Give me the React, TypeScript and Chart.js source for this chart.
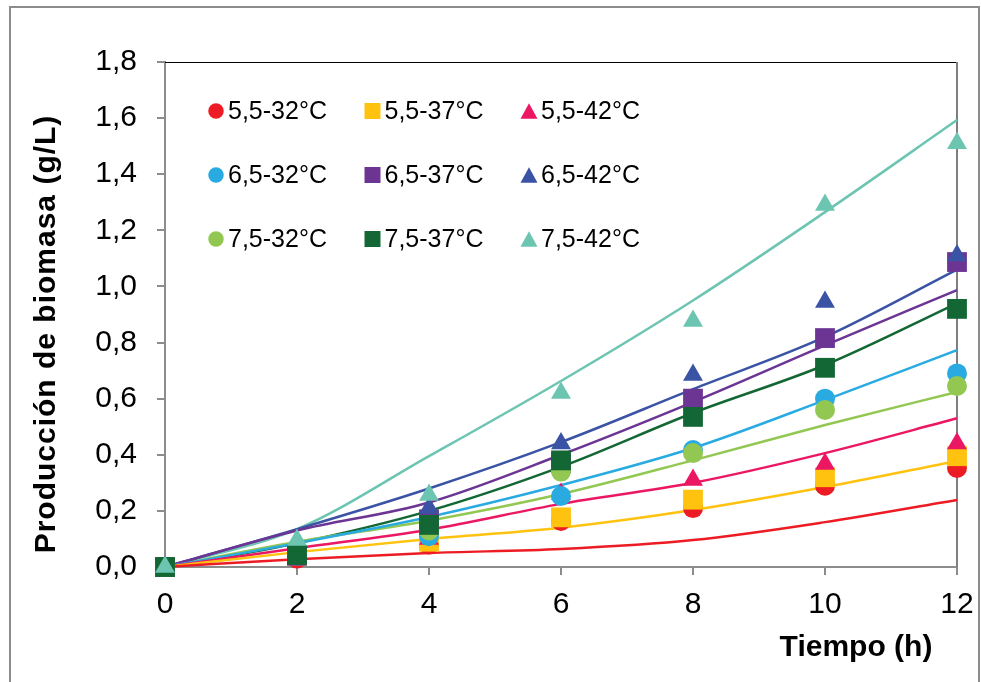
import React, { useEffect, useRef } from "react";
import { Chart, registerables } from "chart.js";

Chart.register(...registerables);

const FONT = "'Liberation Sans', Arial, Helvetica, sans-serif";

// Time axis (h)
const hours = [0, 2, 4, 6, 8, 10, 12];

// Series labels, colours, marker shapes
const seriesLabels = [
  "5,5-32°C", "5,5-37°C", "5,5-42°C",
  "6,5-32°C", "6,5-37°C", "6,5-42°C",
  "7,5-32°C", "7,5-37°C", "7,5-42°C",
];
const seriesColors = [
  "#ED1C24", "#FFC20E", "#EC1763",
  "#29ABE2", "#6C3594", "#3A53A4",
  "#92C852", "#136734", "#6CC5B1",
];
const seriesShapes = [
  "circle", "rect", "triangle",
  "circle", "rect", "triangle",
  "circle", "rect", "triangle",
];

// Observed biomass (g/L)
const obs_55_32 = [0, 0.03, 0.08, 0.164, 0.21, 0.29, 0.353];
const obs_55_37 = [0, 0.04, 0.09, 0.177, 0.24, 0.32, 0.395];
const obs_55_42 = [0, 0.05, 0.1, 0.26, 0.31, 0.367, 0.44];
const obs_65_32 = [0, 0.04, 0.11, 0.253, 0.417, 0.6, 0.69];
const obs_65_37 = [0, 0.04, 0.17, 0.37, 0.6, 0.816, 1.087];
const obs_65_42 = [0, 0.05, 0.21, 0.44, 0.684, 0.945, 1.11];
const obs_75_32 = [0, 0.05, 0.13, 0.34, 0.406, 0.56, 0.645];
const obs_75_37 = [0, 0.043, 0.15, 0.38, 0.535, 0.71, 0.92];
const obs_75_42 = [0, 0.096, 0.257, 0.62, 0.877, 1.29, 1.51];

// Model (fitted) curves (g/L)
const fit_55_32 = [0, 0.028, 0.05, 0.064, 0.096, 0.16, 0.239];
const fit_55_37 = [0, 0.053, 0.1, 0.14, 0.203, 0.285, 0.378];
const fit_55_42 = [0, 0.067, 0.133, 0.225, 0.3, 0.406, 0.53];
const fit_65_32 = [0, 0.085, 0.178, 0.292, 0.424, 0.595, 0.773];
const fit_65_37 = [0, 0.13, 0.23, 0.4, 0.588, 0.79, 0.987];
const fit_65_42 = [0, 0.135, 0.28, 0.445, 0.634, 0.82, 1.06];
const fit_75_32 = [0, 0.09, 0.165, 0.26, 0.38, 0.506, 0.624];
const fit_75_37 = [0, 0.085, 0.2, 0.357, 0.549, 0.72, 0.94];
const fit_75_42 = [0, 0.135, 0.395, 0.663, 0.95, 1.265, 1.593];

const observed = [obs_55_32, obs_55_37, obs_55_42, obs_65_32, obs_65_37, obs_65_42, obs_75_32, obs_75_37, obs_75_42];
const fitted = [fit_55_32, fit_55_37, fit_55_42, fit_65_32, fit_65_37, fit_65_42, fit_75_32, fit_75_37, fit_75_42];

const yMin = 0;
const yMax = 1.8;
const yStep = 0.2;
const xMin = 0;
const xMax = 12;
const xStep = 2;

const xTitle = "Tiempo (h)";
const yTitle = "Producción de biomasa (g/L)";

const markerRadius: Record<string, number> = { circle: 10, rect: 14, triangle: 11.5 };

function drawShape(ctx: CanvasRenderingContext2D, shape: string, x: number, y: number, size: number, color: string) {
  ctx.save();
  ctx.fillStyle = color;
  ctx.beginPath();
  if (shape === "circle") {
    ctx.arc(x, y, size / 2, 0, Math.PI * 2);
  } else if (shape === "rect") {
    ctx.rect(x - size / 2, y - size / 2, size, size);
  } else {
    const h = size * 0.9;
    ctx.moveTo(x, y - h / 2);
    ctx.lineTo(x + size / 2, y + h / 2);
    ctx.lineTo(x - size / 2, y + h / 2);
    ctx.closePath();
  }
  ctx.fill();
  ctx.restore();
}

const decorPlugin = {
  id: "decor",
  beforeDraw(chart: any) {
    const ctx = chart.ctx as CanvasRenderingContext2D;
    ctx.save();
    ctx.fillStyle = "#ffffff";
    ctx.fillRect(0, 0, chart.width, chart.height);
    ctx.strokeStyle = "#8c8c8c";
    ctx.lineWidth = 2;
    ctx.strokeRect(10, 7, 969, 690);
    ctx.restore();
  },
  beforeDatasetsDraw(chart: any) {
    const ctx = chart.ctx as CanvasRenderingContext2D;
    const a = chart.chartArea;
    ctx.save();
    // top border (thin black) and right border (gray)
    ctx.strokeStyle = "#000000";
    ctx.lineWidth = 1;
    ctx.beginPath();
    ctx.moveTo(a.left, a.top + 0.5);
    ctx.lineTo(a.right, a.top + 0.5);
    ctx.stroke();
    ctx.strokeStyle = "#7f7f7f";
    ctx.lineWidth = 2;
    ctx.beginPath();
    ctx.moveTo(a.right, a.top);
    ctx.lineTo(a.right, a.bottom);
    ctx.stroke();
    ctx.restore();
  },
  afterDraw(chart: any) {
    const ctx = chart.ctx as CanvasRenderingContext2D;
    const a = chart.chartArea;
    ctx.save();
    // legend inside the plot (3 x 3 grid)
    ctx.font = `25px ${FONT}`;
    ctx.textAlign = "left";
    ctx.textBaseline = "middle";
    for (let i = 0; i < seriesLabels.length; i++) {
      const col = i % 3;
      const row = Math.floor(i / 3);
      const cx = a.left + 51 + col * 156.5;
      const cy = a.top + 49 + row * 64;
      const shape = seriesShapes[i];
      const size = shape === "circle" ? 15.5 : shape === "rect" ? 16 : 17;
      drawShape(ctx, shape, cx, cy, size, seriesColors[i]);
      ctx.fillStyle = "#000000";
      ctx.fillText(seriesLabels[i], cx + 12, cy + 1);
    }

    // axis titles
    ctx.font = `bold 30px ${FONT}`;
    ctx.fillStyle = "#000000";
    ctx.textAlign = "center";
    ctx.textBaseline = "middle";
    ctx.fillText(xTitle, 856, 648);
    ctx.save();
    ctx.translate(47, 334);
    ctx.rotate(-Math.PI / 2);
    try { (ctx as any).letterSpacing = "1px"; } catch (e) {}
    ctx.fillText(yTitle, 0, 0);
    ctx.restore();
    ctx.restore();
  },
};

export default function App() {
  const ref = useRef<HTMLCanvasElement | null>(null);

  useEffect(() => {
    if (!ref.current) return;
    const datasets: any[] = [];
    observed.forEach((vals, i) => {
      datasets.push({
        type: "scatter",
        label: seriesLabels[i],
        data: hours.map((h, k) => ({ x: h, y: vals[k] })),
        pointStyle: seriesShapes[i],
        pointRadius: markerRadius[seriesShapes[i]],
        pointHoverRadius: markerRadius[seriesShapes[i]],
        backgroundColor: seriesColors[i],
        borderColor: seriesColors[i],
        pointBorderWidth: 0,
        borderWidth: 0,
        showLine: false,
        clip: false,
        order: 50 - i,
      });
    });
    fitted.forEach((vals, i) => {
      datasets.push({
        type: "line",
        label: seriesLabels[i] + " modelo",
        data: hours.map((h, k) => ({ x: h, y: vals[k] })),
        borderColor: seriesColors[i],
        backgroundColor: seriesColors[i],
        borderWidth: 2.5,
        pointRadius: 0,
        fill: false,
        clip: false,
        cubicInterpolationMode: "monotone",
        order: 100,
      });
    });

    const chart = new Chart(ref.current, {
      type: "scatter",
      data: { datasets },
      plugins: [decorPlugin],
      options: {
        animation: false,
        responsive: false,
        devicePixelRatio: 1,
        layout: { padding: { left: 0, top: 62, right: 24, bottom: 0 } },
        plugins: {
          legend: { display: false },
          tooltip: { enabled: false },
          title: { display: false },
        },
        scales: {
          x: {
            type: "linear",
            min: xMin,
            max: xMax,
            afterFit: (s: any) => { s.height = 115; s.paddingLeft = 0; s.paddingRight = 0; },
            ticks: {
              stepSize: xStep,
              color: "#000000",
              font: { family: FONT, size: 30 },
              padding: 12,
              maxRotation: 0,
              callback: (v: any) => String(v),
            },
            grid: { drawOnChartArea: false, drawTicks: true, tickLength: 8, color: "#8c8c8c", lineWidth: 2 },
            border: { display: true, color: "#8c8c8c", width: 2 },
          },
          y: {
            type: "linear",
            min: yMin,
            max: yMax,
            afterFit: (s: any) => { s.width = 165; s.paddingTop = 0; s.paddingBottom = 0; },
            ticks: {
              stepSize: yStep,
              color: "#000000",
              font: { family: FONT, size: 30 },
              padding: 20,
              callback: (v: any) => Number(v).toFixed(1).replace(".", ","),
            },
            grid: { drawOnChartArea: false, drawTicks: true, tickLength: 8, color: "#8c8c8c", lineWidth: 2 },
            border: { display: true, color: "#8c8c8c", width: 2 },
          },
        },
      } as any,
    });
    return () => chart.destroy();
  }, []);

  return (
    <div style={{ position: "absolute", left: 0, top: 0, width: 981, height: 682 }}>
      <canvas ref={ref} width={981} height={682} style={{ display: "block" }} />
    </div>
  );
}
